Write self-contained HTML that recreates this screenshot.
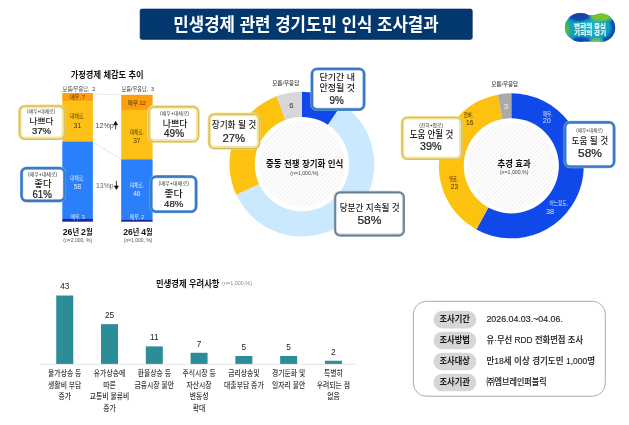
<!DOCTYPE html>
<html lang="ko"><head><meta charset="utf-8"><title>민생경제 관련 경기도민 인식 조사결과</title>
<style>html,body{margin:0;padding:0;background:#fff}body{width:629px;height:425px;overflow:hidden}svg{display:block;font-family:'Liberation Sans','Noto Sans CJK KR',sans-serif}text{white-space:pre}</style>
</head><body>
<svg width="629" height="425" viewBox="0 0 629 425">
<defs>
<filter id="bl" x="-20%" y="-20%" width="140%" height="140%"><feGaussianBlur stdDeviation="0.4"/></filter>
<filter id="lb" x="-30%" y="-30%" width="160%" height="160%"><feGaussianBlur stdDeviation="0.9"/></filter>
<filter id="sh" x="-20%" y="-20%" width="140%" height="140%"><feGaussianBlur stdDeviation="2.2"/></filter>
<pattern id="hatch" width="3" height="3" patternUnits="userSpaceOnUse" patternTransform="rotate(-45)"><rect width="3" height="3" fill="#fff"/><rect width="3" height="1.0" fill="#f0f0f0"/></pattern>
</defs>
<rect width="629" height="425" fill="#fff"/>
<rect x="140.10" y="9.00" width="332.20" height="30.40" fill="#03386e" rx="1.8" ry="1.8" stroke="#022c5a" stroke-width="0.6" />
<text x="173.36" y="31.14" font-size="18.26" font-weight="700" fill="#fff" textLength="265.28" lengthAdjust="spacingAndGlyphs" >민생경제 관련 경기도민 인식 조사결과</text>
<clipPath id="lg"><ellipse cx="580.6" cy="27.4" rx="15.7" ry="14.4"/><circle cx="601" cy="27.7" r="14.2"/><rect x="583" y="15.2" width="17" height="26.4" rx="2"/></clipPath>
<g clip-path="url(#lg)">
<rect x="560" y="8" width="62" height="40" fill="#10a1bc"/>
<g filter="url(#lb)">
<ellipse cx="590" cy="28" rx="13" ry="7" fill="#1fb0c8"/>
<ellipse cx="579.5" cy="13.4" rx="12.5" ry="8" fill="#1242aa"/>
<ellipse cx="564.8" cy="30" rx="5.2" ry="8.5" fill="#4cb651"/>
<ellipse cx="581" cy="42.6" rx="10.5" ry="5.8" fill="#0f48b2"/>
<ellipse cx="601" cy="13.6" rx="11.5" ry="8" fill="#78c332"/>
<path d="M611.65 20.24A13 13 0 0 1 602.81 40.57" fill="none" stroke="#0b4cae" stroke-width="5"/>
<ellipse cx="596.5" cy="41.6" rx="6" ry="3.4" fill="#74c043"/>
</g></g>
<text x="574.09" y="27.53" font-size="5.87" font-weight="900" fill="#f4ffff" textLength="32.11" lengthAdjust="spacingAndGlyphs" >변화의 중심</text>
<text x="574.09" y="35.42" font-size="5.98" font-weight="900" fill="#f4ffff" textLength="32.12" lengthAdjust="spacingAndGlyphs" >기회의 경기</text>
<text x="70.67" y="77.85" font-size="9.35" font-weight="700" fill="#111" textLength="73.05" lengthAdjust="spacingAndGlyphs" >가정경제 체감도 추이</text>
<text x="62.61" y="90.96" font-size="5.50" font-weight="400" fill="#333" textLength="32.59" lengthAdjust="spacingAndGlyphs" >모름/무응답,  2</text>
<text x="121.61" y="90.96" font-size="5.50" font-weight="400" fill="#333" textLength="32.39" lengthAdjust="spacingAndGlyphs" >모름/무응답,  3</text>
<line x1="93.0" y1="93.8" x2="121.2" y2="95.0" stroke="#dcdcdc" stroke-width="0.7"/>
<line x1="93.0" y1="142.0" x2="121.2" y2="159.2" stroke="#dcdcdc" stroke-width="0.7"/>
<rect x="62.30" y="93.00" width="30.60" height="8.30" fill="#fd9f10" />
<rect x="62.30" y="101.20" width="30.60" height="40.40" fill="#fdc116" />
<rect x="62.30" y="141.50" width="30.60" height="77.50" fill="#2a80fb" />
<rect x="62.30" y="218.90" width="30.60" height="2.80" fill="#1a25a0" />
<rect x="121.20" y="94.80" width="31.40" height="15.20" fill="#fd9f10" />
<rect x="121.20" y="109.90" width="31.40" height="49.50" fill="#fdc116" />
<rect x="121.20" y="159.30" width="31.40" height="60.60" fill="#2a80fb" />
<rect x="121.20" y="219.80" width="31.40" height="1.90" fill="#1a25a0" />
<text transform="translate(77.60 99.40) scale(0.88 1)" font-size="5.60" font-weight="400" fill="#4a3000" text-anchor="middle">매우, 7</text>
<text transform="translate(77.40 118.40) scale(0.86 1)" font-size="5.40" font-weight="400" fill="#4a3000" text-anchor="middle">대체로,</text>
<text x="77.40" y="127.60" font-size="6.60" font-weight="400" fill="#4a3000" text-anchor="middle">31</text>
<text transform="translate(77.40 179.90) scale(0.86 1)" font-size="5.40" font-weight="400" fill="#e4edff" text-anchor="middle">대체로,</text>
<text x="77.40" y="189.00" font-size="6.60" font-weight="400" fill="#e4edff" text-anchor="middle">58</text>
<text transform="translate(77.60 218.90) scale(0.88 1)" font-size="5.40" font-weight="400" fill="#e4edff" text-anchor="middle">매우, 3</text>
<text transform="translate(136.80 105.40) scale(0.9 1)" font-size="6.20" font-weight="400" fill="#4a3000" text-anchor="middle">매우,12</text>
<text transform="translate(136.80 134.20) scale(0.86 1)" font-size="5.40" font-weight="400" fill="#4a3000" text-anchor="middle">대체로,</text>
<text x="136.80" y="143.00" font-size="6.60" font-weight="400" fill="#4a3000" text-anchor="middle">37</text>
<text transform="translate(136.80 187.00) scale(0.86 1)" font-size="5.40" font-weight="400" fill="#e4edff" text-anchor="middle">대체로,</text>
<text x="136.80" y="195.80" font-size="6.60" font-weight="400" fill="#e4edff" text-anchor="middle">46</text>
<text transform="translate(136.80 218.90) scale(0.88 1)" font-size="5.40" font-weight="400" fill="#e4edff" text-anchor="middle">매우, 2</text>
<text x="95.49" y="128.00" font-size="7.80" font-weight="400" fill="#4a4a4a" textLength="18.22" lengthAdjust="spacingAndGlyphs" >12%p</text>
<path d="M115.6 129.3V123.4M113.7 124.8L115.6 121.4L117.5 124.8Z" stroke="#111" stroke-width="0.8" fill="#111"/>
<text x="95.99" y="187.50" font-size="7.80" font-weight="400" fill="#6a6a6a" textLength="17.72" lengthAdjust="spacingAndGlyphs" >13%p</text>
<path d="M116.4 180.8V186.8M114.5 186.0L116.4 189.4L118.3 186.0Z" stroke="#111" stroke-width="0.8" fill="#111"/>
<text x="62.73" y="234.59" font-size="7.61" font-weight="700" fill="#111" textLength="29.93" lengthAdjust="spacingAndGlyphs" ><tspan font-size="9.2">26</tspan>년 <tspan font-size="9.2">2</tspan>월</text>
<text x="123.23" y="234.59" font-size="7.61" font-weight="700" fill="#111" textLength="29.43" lengthAdjust="spacingAndGlyphs" ><tspan font-size="9.2">26</tspan>년 <tspan font-size="9.2">4</tspan>월</text>
<text x="63.34" y="242.22" font-size="4.70" font-weight="500" fill="#555" textLength="28.83" lengthAdjust="spacingAndGlyphs" >(n=2,000, %)</text>
<text x="123.84" y="242.22" font-size="4.70" font-weight="500" fill="#555" textLength="28.33" lengthAdjust="spacingAndGlyphs" >(n=1,000, %)</text>
<rect x="19.85" y="106.35" width="43.70" height="31.90" rx="4.65" fill="#fff" stroke="#f6e79e" stroke-width="3.7" filter="url(#bl)"/>
<rect x="19.55" y="106.05" width="44.95" height="33.15" rx="5.20" fill="none" stroke="#d6be62" stroke-width="1.5"/>
<text x="26.93" y="113.41" font-size="4.90" font-weight="400" fill="#333" textLength="28.24" lengthAdjust="spacingAndGlyphs" >(매우+대체로)</text>
<text x="29.41" y="123.63" font-size="8.37" font-weight="500" fill="#1c1c1c" textLength="24.19" lengthAdjust="spacingAndGlyphs" >나쁘다</text>
<text x="31.92" y="134.40" font-size="9.41" font-weight="400" fill="#222" textLength="19.15" lengthAdjust="spacingAndGlyphs" stroke="#222" stroke-width="0.22">37%</text>
<rect x="149.15" y="106.95" width="48.50" height="33.80" rx="4.65" fill="#fff" stroke="#f6e79e" stroke-width="3.7" filter="url(#bl)"/>
<rect x="148.85" y="106.65" width="49.75" height="35.05" rx="5.20" fill="none" stroke="#d6be62" stroke-width="1.5"/>
<text x="160.13" y="114.61" font-size="4.90" font-weight="400" fill="#333" textLength="29.04" lengthAdjust="spacingAndGlyphs" >(매우+대체로)</text>
<text x="162.67" y="126.65" font-size="9.35" font-weight="500" fill="#1c1c1c" textLength="24.85" lengthAdjust="spacingAndGlyphs" >나쁘다</text>
<text x="164.10" y="136.60" font-size="10.00" font-weight="400" fill="#222" textLength="19.90" lengthAdjust="spacingAndGlyphs" stroke="#222" stroke-width="0.22">49%</text>
<rect x="21.60" y="168.10" width="42.80" height="32.70" rx="4.90" fill="#fff" stroke="#8ab6ec" stroke-width="3.2" filter="url(#bl)"/>
<rect x="21.55" y="168.05" width="43.00" height="32.90" rx="5.20" fill="none" stroke="#3a78c2" stroke-width="2.2"/>
<text x="27.93" y="175.51" font-size="4.90" font-weight="400" fill="#333" textLength="29.24" lengthAdjust="spacingAndGlyphs" >(매우+대체로)</text>
<text x="34.28" y="187.47" font-size="9.13" font-weight="500" fill="#1c1c1c" textLength="17.24" lengthAdjust="spacingAndGlyphs" >좋다</text>
<text x="32.48" y="197.80" font-size="10.44" font-weight="400" fill="#222" textLength="19.44" lengthAdjust="spacingAndGlyphs" stroke="#222" stroke-width="0.22">61%</text>
<rect x="151.20" y="176.60" width="44.80" height="35.00" rx="4.90" fill="#fff" stroke="#8ab6ec" stroke-width="3.2" filter="url(#bl)"/>
<rect x="151.15" y="176.55" width="45.00" height="35.20" rx="5.20" fill="none" stroke="#3a78c2" stroke-width="2.2"/>
<text x="158.63" y="185.11" font-size="4.90" font-weight="400" fill="#333" textLength="30.24" lengthAdjust="spacingAndGlyphs" >(매우+대체로)</text>
<text x="164.16" y="196.63" font-size="9.67" font-weight="500" fill="#1c1c1c" textLength="18.48" lengthAdjust="spacingAndGlyphs" >좋다</text>
<text x="164.11" y="207.20" font-size="9.71" font-weight="400" fill="#222" textLength="19.28" lengthAdjust="spacingAndGlyphs" stroke="#222" stroke-width="0.22">48%</text>
<path d="M301.90 91.75A72.4 72.4 0 0 1 342.07 103.92L327.64 125.55A46.4 46.4 0 0 0 301.90 117.75Z" fill="#1049ea"/>
<path d="M342.07 103.92A72.4 72.4 0 1 1 236.28 194.75L259.85 183.76A46.4 46.4 0 1 0 327.64 125.55Z" fill="#cbe9fe"/>
<path d="M236.28 194.75A72.4 72.4 0 0 1 276.66 96.29L285.73 120.66A46.4 46.4 0 0 0 259.85 183.76Z" fill="#fdc10f"/>
<path d="M276.66 96.29A72.4 72.4 0 0 1 301.90 91.75L301.90 117.75A46.4 46.4 0 0 0 285.73 120.66Z" fill="#d7d7da"/>
<circle cx="301.9" cy="164.15" r="47.199999999999996" fill="#fff" opacity="0.9" filter="url(#bl)"/>
<circle cx="301.9" cy="164.15" r="46.699999999999996" fill="#fff"/>
<circle cx="301.9" cy="164.15" r="43.199999999999996" fill="url(#hatch)"/>
<text x="272.21" y="85.46" font-size="5.50" font-weight="500" fill="#3c3c3c" textLength="27.09" lengthAdjust="spacingAndGlyphs" >모름/무응답</text>
<text x="291.40" y="107.80" font-size="7.80" font-weight="400" fill="#333" text-anchor="middle">6</text>
<text x="265.98" y="166.87" font-size="9.13" font-weight="700" fill="#111" textLength="77.34" lengthAdjust="spacingAndGlyphs" >중동 전쟁 장기화 인식</text>
<text x="290.33" y="174.81" font-size="4.90" font-weight="500" fill="#444" textLength="28.14" lengthAdjust="spacingAndGlyphs" >(n=1,000,%)</text>
<rect x="312.00" y="69.00" width="52.00" height="40.40" rx="4.90" fill="#fff" stroke="#8ab6ec" stroke-width="3.2" filter="url(#bl)"/>
<rect x="311.95" y="68.95" width="52.20" height="40.60" rx="5.20" fill="none" stroke="#3a78c2" stroke-width="2.2"/>
<text x="319.51" y="79.73" font-size="8.37" font-weight="500" fill="#1c1c1c" textLength="35.59" lengthAdjust="spacingAndGlyphs" >단기간 내</text>
<text x="319.50" y="90.91" font-size="8.59" font-weight="500" fill="#1c1c1c" textLength="35.60" lengthAdjust="spacingAndGlyphs" >안정될 것</text>
<text x="329.59" y="103.60" font-size="10.29" font-weight="400" fill="#222" textLength="14.22" lengthAdjust="spacingAndGlyphs" stroke="#222" stroke-width="0.22">9%</text>
<rect x="209.45" y="114.45" width="49.10" height="33.20" rx="4.65" fill="#fff" stroke="#f6e79e" stroke-width="3.7" filter="url(#bl)"/>
<rect x="209.15" y="114.15" width="50.35" height="34.45" rx="5.20" fill="none" stroke="#d6be62" stroke-width="1.5"/>
<text x="211.66" y="127.83" font-size="9.67" font-weight="500" fill="#1c1c1c" textLength="44.68" lengthAdjust="spacingAndGlyphs" >장기화 될 것</text>
<text x="222.45" y="141.60" font-size="11.32" font-weight="400" fill="#222" textLength="22.81" lengthAdjust="spacingAndGlyphs" stroke="#222" stroke-width="0.22">27%</text>
<rect x="335.10" y="192.30" width="68.40" height="42.80" rx="5.00" fill="#fff" stroke="#b4c8da" stroke-width="3.0" filter="url(#bl)"/>
<rect x="335.15" y="192.35" width="68.90" height="43.30" rx="5.20" fill="none" stroke="#687c90" stroke-width="1.6"/>
<text x="339.67" y="210.75" font-size="9.35" font-weight="500" fill="#1c1c1c" textLength="60.05" lengthAdjust="spacingAndGlyphs" >당분간 지속될 것</text>
<text x="357.45" y="224.00" font-size="11.32" font-weight="400" fill="#222" textLength="24.01" lengthAdjust="spacingAndGlyphs" stroke="#222" stroke-width="0.22">58%</text>
<path d="M511.30 93.35A72.5 72.5 0 1 1 476.37 229.38L488.75 206.86A46.8 46.8 0 1 0 511.30 119.05Z" fill="#1049ea"/>
<path d="M476.37 229.38A72.5 72.5 0 0 1 497.71 94.63L502.53 119.88A46.8 46.8 0 0 0 488.75 206.86Z" fill="#fdc10f"/>
<path d="M497.71 94.63A72.5 72.5 0 0 1 511.30 93.35L511.30 119.05A46.8 46.8 0 0 0 502.53 119.88Z" fill="#aaaaaa"/>
<circle cx="511.3" cy="165.85" r="47.599999999999994" fill="#fff" opacity="0.9" filter="url(#bl)"/>
<circle cx="511.3" cy="165.85" r="47.099999999999994" fill="#fff"/>
<circle cx="511.3" cy="165.85" r="43.599999999999994" fill="url(#hatch)"/>
<text x="491.21" y="86.06" font-size="5.50" font-weight="500" fill="#3c3c3c" textLength="26.99" lengthAdjust="spacingAndGlyphs" >모름/무응답</text>
<text x="506.00" y="108.70" font-size="7.80" font-weight="400" fill="#f4f4f4" text-anchor="middle">3</text>
<text transform="translate(542.90 115.60) scale(0.75 1)" font-size="6.10" font-weight="400" fill="#d6e4ff" text-anchor="start">매우,</text>
<text x="542.80" y="123.00" font-size="7.20" font-weight="400" fill="#d6e4ff" text-anchor="start">20</text>
<text transform="translate(549.40 204.90) scale(0.76 1)" font-size="6.10" font-weight="400" fill="#d6e4ff" text-anchor="start">어느정도,</text>
<text x="546.00" y="214.40" font-size="7.40" font-weight="400" fill="#d6e4ff" text-anchor="start">38</text>
<text transform="translate(449.20 181.20) scale(0.7 1)" font-size="5.80" font-weight="400" fill="#4a3000" text-anchor="start">별로,</text>
<text transform="translate(450.80 189.20) scale(0.95 1)" font-size="7.00" font-weight="400" fill="#4a3000" text-anchor="start">23</text>
<text transform="translate(463.70 116.70) scale(0.75 1)" font-size="5.80" font-weight="400" fill="#4a3000" text-anchor="start">전혀,</text>
<text transform="translate(466.00 125.00) scale(0.95 1)" font-size="7.00" font-weight="400" fill="#4a3000" text-anchor="start">16</text>
<text x="497.48" y="166.88" font-size="9.02" font-weight="700" fill="#111" textLength="33.13" lengthAdjust="spacingAndGlyphs" >추경 효과</text>
<text x="499.83" y="174.21" font-size="4.90" font-weight="500" fill="#444" textLength="28.64" lengthAdjust="spacingAndGlyphs" >(n=1,000,%)</text>
<rect x="402.45" y="117.75" width="58.40" height="40.50" rx="4.65" fill="#fff" stroke="#f6e79e" stroke-width="3.7" filter="url(#bl)"/>
<rect x="402.15" y="117.45" width="59.65" height="41.75" rx="5.20" fill="none" stroke="#d6be62" stroke-width="1.5"/>
<text x="419.13" y="126.51" font-size="4.90" font-weight="400" fill="#333" textLength="23.94" lengthAdjust="spacingAndGlyphs" >(전혀+별로)</text>
<text x="409.65" y="138.49" font-size="10.11" font-weight="500" fill="#1c1c1c" textLength="43.61" lengthAdjust="spacingAndGlyphs" >도움 안될 것</text>
<text x="420.07" y="149.70" font-size="10.74" font-weight="400" fill="#222" textLength="21.56" lengthAdjust="spacingAndGlyphs" stroke="#222" stroke-width="0.22">39%</text>
<rect x="565.10" y="122.40" width="48.90" height="44.20" rx="4.90" fill="#fff" stroke="#8ab6ec" stroke-width="3.2" filter="url(#bl)"/>
<rect x="565.05" y="122.35" width="49.10" height="44.40" rx="5.20" fill="none" stroke="#3a78c2" stroke-width="2.2"/>
<text x="576.23" y="132.21" font-size="4.90" font-weight="400" fill="#333" textLength="26.54" lengthAdjust="spacingAndGlyphs" >(매우+대체로)</text>
<text x="571.48" y="143.76" font-size="9.24" font-weight="500" fill="#1c1c1c" textLength="36.65" lengthAdjust="spacingAndGlyphs" >도움 될 것</text>
<text x="578.05" y="156.50" font-size="11.32" font-weight="400" fill="#222" textLength="23.91" lengthAdjust="spacingAndGlyphs" stroke="#222" stroke-width="0.22">58%</text>
<text x="156.08" y="286.67" font-size="9.13" font-weight="700" fill="#111" textLength="63.44" lengthAdjust="spacingAndGlyphs" >민생경제 우려사항</text>
<text x="222.12" y="285.40" font-size="5.00" font-weight="400" fill="#888" textLength="29.85" lengthAdjust="spacingAndGlyphs" >(n=1,000,%)</text>
<line x1="40.5" y1="364.3" x2="355.5" y2="364.4" stroke="#e0e0e0" stroke-width="0.9"/>
<rect x="56.25" y="295.53" width="17.00" height="68.37" fill="#2c8c97" />
<text x="64.75" y="289.33" font-size="8.30" font-weight="400" fill="#222" text-anchor="middle">43</text>
<text transform="translate(64.75 376.30) scale(0.9 1)" font-size="7.60" font-weight="500" fill="#333" text-anchor="middle">물가상승 등</text>
<text transform="translate(64.75 387.85) scale(0.9 1)" font-size="7.60" font-weight="500" fill="#333" text-anchor="middle">생활비 부담</text>
<text transform="translate(64.75 399.40) scale(0.9 1)" font-size="7.60" font-weight="500" fill="#333" text-anchor="middle">증가</text>
<rect x="101.03" y="324.15" width="17.00" height="39.75" fill="#2c8c97" />
<text x="109.53" y="317.95" font-size="8.30" font-weight="400" fill="#222" text-anchor="middle">25</text>
<text transform="translate(109.53 376.30) scale(0.9 1)" font-size="7.60" font-weight="500" fill="#333" text-anchor="middle">유가상승에</text>
<text transform="translate(109.53 387.85) scale(0.9 1)" font-size="7.60" font-weight="500" fill="#333" text-anchor="middle">따른</text>
<text transform="translate(109.53 399.40) scale(0.9 1)" font-size="7.60" font-weight="500" fill="#333" text-anchor="middle">교통비 물류비</text>
<text transform="translate(109.53 410.95) scale(0.9 1)" font-size="7.60" font-weight="500" fill="#333" text-anchor="middle">증가</text>
<rect x="145.81" y="346.41" width="17.00" height="17.49" fill="#2c8c97" />
<text x="154.31" y="340.21" font-size="8.30" font-weight="400" fill="#222" text-anchor="middle">11</text>
<text transform="translate(154.31 376.30) scale(0.9 1)" font-size="7.60" font-weight="500" fill="#333" text-anchor="middle">환율상승 등</text>
<text transform="translate(154.31 387.85) scale(0.9 1)" font-size="7.60" font-weight="500" fill="#333" text-anchor="middle">금융시장 불안</text>
<rect x="190.59" y="352.77" width="17.00" height="11.13" fill="#2c8c97" />
<text x="199.09" y="346.57" font-size="8.30" font-weight="400" fill="#222" text-anchor="middle">7</text>
<text transform="translate(199.09 376.30) scale(0.9 1)" font-size="7.60" font-weight="500" fill="#333" text-anchor="middle">주식시장 등</text>
<text transform="translate(199.09 387.85) scale(0.9 1)" font-size="7.60" font-weight="500" fill="#333" text-anchor="middle">자산시장</text>
<text transform="translate(199.09 399.40) scale(0.9 1)" font-size="7.60" font-weight="500" fill="#333" text-anchor="middle">변동성</text>
<text transform="translate(199.09 410.95) scale(0.9 1)" font-size="7.60" font-weight="500" fill="#333" text-anchor="middle">확대</text>
<rect x="235.37" y="355.95" width="17.00" height="7.95" fill="#2c8c97" />
<text x="243.87" y="349.75" font-size="8.30" font-weight="400" fill="#222" text-anchor="middle">5</text>
<text transform="translate(243.87 376.30) scale(0.9 1)" font-size="7.60" font-weight="500" fill="#333" text-anchor="middle">금리상승및</text>
<text transform="translate(243.87 387.85) scale(0.9 1)" font-size="7.60" font-weight="500" fill="#333" text-anchor="middle">대출부담 증가</text>
<rect x="280.15" y="355.95" width="17.00" height="7.95" fill="#2c8c97" />
<text x="288.65" y="349.75" font-size="8.30" font-weight="400" fill="#222" text-anchor="middle">5</text>
<text transform="translate(288.65 376.30) scale(0.9 1)" font-size="7.60" font-weight="500" fill="#333" text-anchor="middle">경기둔화 및</text>
<text transform="translate(288.65 387.85) scale(0.9 1)" font-size="7.60" font-weight="500" fill="#333" text-anchor="middle">일자리 불안</text>
<rect x="324.93" y="360.72" width="17.00" height="3.18" fill="#2c8c97" />
<text x="333.43" y="354.52" font-size="8.30" font-weight="400" fill="#222" text-anchor="middle">2</text>
<text transform="translate(333.43 376.30) scale(0.9 1)" font-size="7.60" font-weight="500" fill="#333" text-anchor="middle">특별히</text>
<text transform="translate(333.43 387.85) scale(0.9 1)" font-size="7.60" font-weight="500" fill="#333" text-anchor="middle">우려되는 점</text>
<text transform="translate(333.43 399.40) scale(0.9 1)" font-size="7.60" font-weight="500" fill="#333" text-anchor="middle">없음</text>
<rect x="413.40" y="301.30" width="191.90" height="94.90" fill="#fff" rx="12.8" ry="12.8" stroke="#98a8ad" stroke-width="0.9" />
<rect x="433.50" y="310.80" width="42.80" height="17.60" fill="#d6d6d6" rx="8.8" ry="8.8" />
<text x="439.49" y="322.09" font-size="8.91" font-weight="700" fill="#1a1a1a" textLength="30.42" lengthAdjust="spacingAndGlyphs" >조사기간</text>
<text x="486.44" y="322.00" font-size="9.10" font-weight="400" fill="#222" textLength="76.43" lengthAdjust="spacingAndGlyphs" stroke="#222" stroke-width="0.15">2026.04.03.~04.06.</text>
<rect x="433.50" y="331.77" width="42.80" height="17.60" fill="#d6d6d6" rx="8.8" ry="8.8" />
<text x="439.49" y="343.06" font-size="8.91" font-weight="700" fill="#1a1a1a" textLength="30.42" lengthAdjust="spacingAndGlyphs" >조사방법</text>
<text x="486.50" y="343.17" font-size="8.70" font-weight="500" fill="#222" textLength="96.61" lengthAdjust="spacingAndGlyphs" stroke="#222" stroke-width="0.12">유·무선 RDD 전화면접 조사</text>
<rect x="433.50" y="352.74" width="42.80" height="17.60" fill="#d6d6d6" rx="8.8" ry="8.8" />
<text x="439.49" y="364.03" font-size="8.91" font-weight="700" fill="#1a1a1a" textLength="30.42" lengthAdjust="spacingAndGlyphs" >조사대상</text>
<text x="486.50" y="364.14" font-size="8.70" font-weight="500" fill="#222" textLength="108.61" lengthAdjust="spacingAndGlyphs" stroke="#222" stroke-width="0.12">만18세 이상 경기도민 1,000명</text>
<rect x="433.50" y="373.71" width="42.80" height="17.60" fill="#d6d6d6" rx="8.8" ry="8.8" />
<text x="439.49" y="385.00" font-size="8.91" font-weight="700" fill="#1a1a1a" textLength="30.42" lengthAdjust="spacingAndGlyphs" >조사기관</text>
<text x="486.50" y="385.11" font-size="8.70" font-weight="500" fill="#222" textLength="60.11" lengthAdjust="spacingAndGlyphs" stroke="#222" stroke-width="0.12">㈜엠브레인퍼블릭</text>
</svg>
</body></html>
